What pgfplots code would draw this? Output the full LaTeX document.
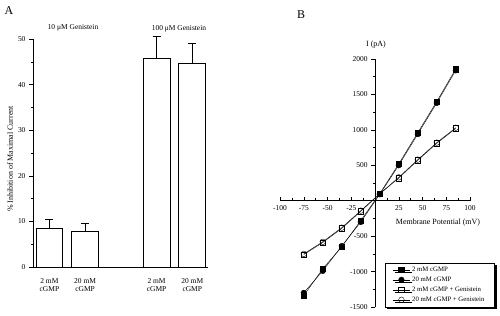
\documentclass[border=0pt]{standalone}
\usepackage{fontspec}
\setmainfont{Liberation Serif}
\usepackage{pgfplots}
\pgfplotsset{compat=1.18}
\usetikzlibrary{shadows}
\begin{document}
\begin{tikzpicture}[x=1bp,y=1bp]
\useasboundingbox (0,0) rectangle (500,315);
% ---------------- Panel A ----------------
\begin{axis}[
  at={(33bp,48bp)}, anchor=south west,
  scale only axis, width=175bp, height=228bp,
  xmin=0.54, xmax=5.44, ymin=0, ymax=50,
  axis x line=bottom, axis y line=left,
  axis line style={-, line width=0.7bp},
  clip=false,
  ytick={0,10,...,50},
  minor ytick={5,15,25,35,45},
  ytick style={line width=0.6bp, black},
  tick align=outside, major tick length=4bp, minor tick length=2bp,
  xtick={1,2,4,5},
  xticklabels={{2 mM\\cGMP},{20 mM\\cGMP},{2 mM\\cGMP},{20 mM\\cGMP}},
  xtick style={draw=none},
  xticklabel style={align=center, font=\fontsize{7.5}{8.5}\selectfont, yshift=-4bp},
  yticklabel style={font=\fontsize{7.5}{8.5}\selectfont},
  /pgf/number format/assume math mode=true,
  ybar, bar width=0.75,
]
\addplot[draw=black, fill=white, line width=0.9bp,
  error bars/.cd, y dir=plus, y explicit,
  error bar style={line width=0.6bp, black},
  error mark options={rotate=90, mark size=4bp, line width=0.6bp, black}]
coordinates {
  (1,8.5) +- (0,2.0)
  (2,7.9) +- (0,1.7)
  (4,45.8) +- (0,4.9)
  (5,44.6) +- (0,4.4)
};
\end{axis}
\node[font=\fontsize{12}{14}\selectfont] at (9,304) {A};
\node[font=\fontsize{7.5}{8.5}\selectfont] at (73,287) {10 μM Genistein};
\node[font=\fontsize{7.5}{8.5}\selectfont] at (179,286) {100 μM Genistein};
\node[font=\fontsize{8}{9}\selectfont, rotate=90] at (10,156) {\% Inhibition of Maximal Current};
% ---------------- Panel B ----------------
\begin{axis}[
  at={(280bp,8bp)}, anchor=south west,
  scale only axis, width=190bp, height=248bp,
  xmin=-100, xmax=100, ymin=-1500, ymax=2000,
  axis lines=middle, axis line style={-, line width=0.6bp},
  clip=false,
  xtick={-100,-75,-50,-25,25,50,75,100},
  minor xtick={-87.5,-62.5,-37.5,-12.5,12.5,37.5,62.5,87.5},
  ytick={-1500,-1000,-500,500,1000,1500,2000},
  minor ytick={-1250,-750,-250,250,750,1250,1750},
  xtick align=inside, ytick align=outside,
  major tick length=4bp, minor tick length=2.5bp,
  tick style={line width=0.5bp, black},
  ticklabel style={font=\fontsize{7.5}{8.5}\selectfont},
  xticklabel style={yshift=-1bp},
  /pgf/number format/assume math mode=true,
  /pgf/number format/1000 sep={},
  legend style={at={(1.13,0)}, anchor=south east, fill=white, draw=black,
    line width=0.5bp,
    font=\fontsize{6.8}{8}\selectfont, row sep=0bp,
    inner xsep=8bp, inner ysep=2bp,
    drop shadow={shadow xshift=2.5bp, shadow yshift=-2.5bp, fill=black, opacity=1}},
  legend cell align=left,
]
\addplot[black, line width=0.4bp, mark=square*, mark size=2.8bp, mark options={fill=black}]
coordinates {(-75,-1340) (-55,-960) (-35,-650) (-15,-280) (5,100) (25,520) (45,960) (65,1400) (85,1860)};
\addlegendentry{2 mM cGMP}
\addplot[black, line width=0.4bp, mark=*, mark size=2.8bp, mark options={fill=black}]
coordinates {(-75,-1300) (-55,-990) (-35,-640) (-15,-300) (5,90) (25,500) (45,940) (65,1380) (85,1840)};
\addlegendentry{20 mM cGMP}
\addplot[black, line width=0.4bp, mark=square, mark size=2.8bp, mark options={fill=white}]
coordinates {(-75,-760) (-55,-590) (-35,-390) (-15,-150) (5,100) (25,320) (45,570) (65,810) (85,1020)};
\addlegendentry{2 mM cGMP + Genistein}
\addplot[black, line width=0.4bp, mark=o, mark size=2.8bp, mark options={fill=white}]
coordinates {(-75,-750) (-55,-580) (-35,-380) (-15,-140) (5,95) (25,330) (45,580) (65,820) (85,1030)};
\addlegendentry{20 mM cGMP + Genistein}
\end{axis}
\node[font=\fontsize{12}{14}\selectfont] at (301,300) {B};
\node[font=\fontsize{8}{9}\selectfont] at (376,270) {I (pA)};
\node[font=\fontsize{8}{9}\selectfont] at (438,92) {Membrane Potential (mV)};
\end{tikzpicture}
\end{document}
